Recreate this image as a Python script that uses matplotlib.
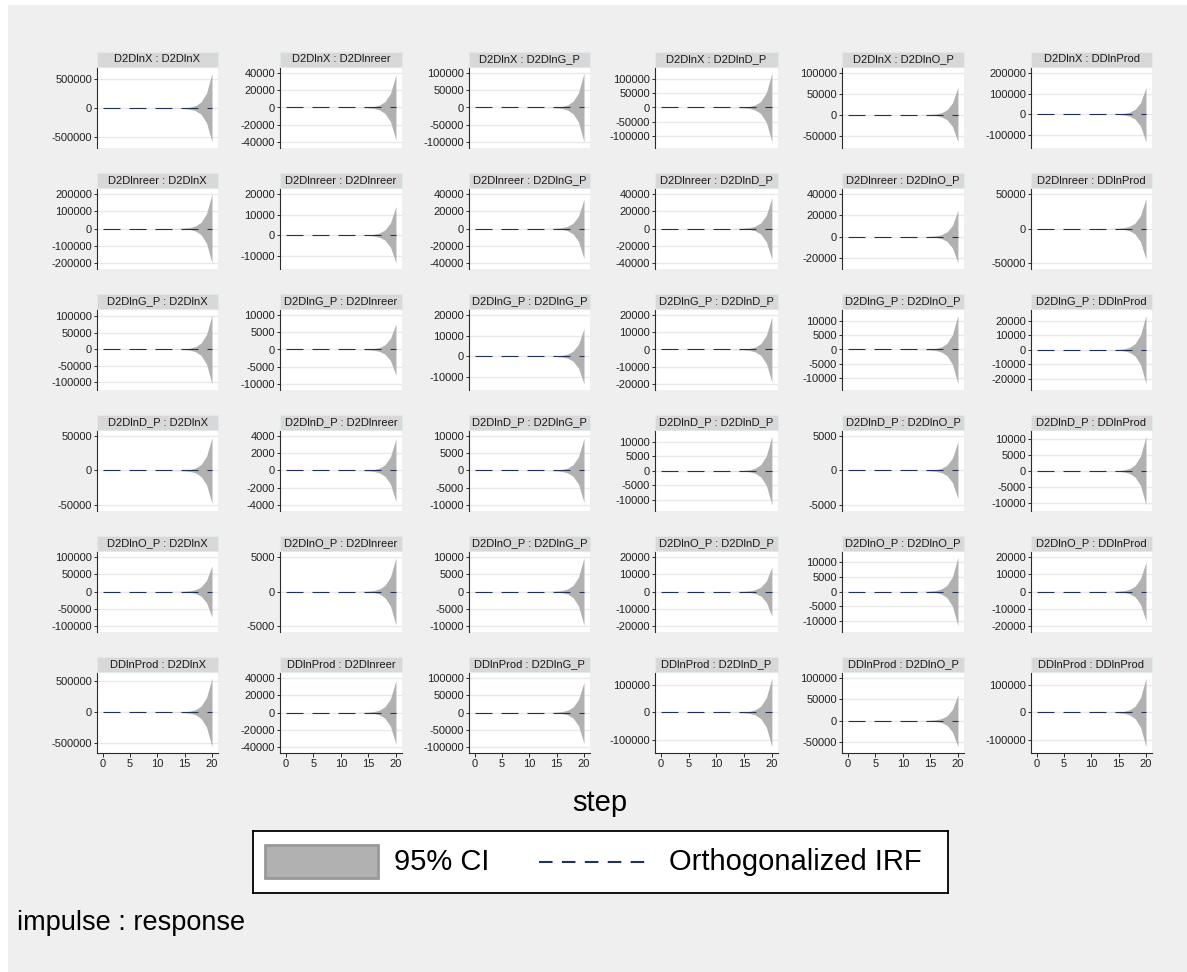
import matplotlib
matplotlib.use("Agg")
import matplotlib.pyplot as plt
from matplotlib.patches import Rectangle
from matplotlib.lines import Line2D

plt.rcParams["font.family"] = ["Liberation Sans", "DejaVu Sans"]

# Stata-like colours
OUTER = "#efefef"
STRIP = "#d8d8d8"
STRIP_EDGE = "#e2e9ec"
BAND = "#b1b1b1"
IRF = "#22325e"
GRID = "#e9e9e9"
AXIS = "#2b2b2b"

variables = ["D2DlnX", "D2Dlnreer", "D2DlnG_P", "D2DlnD_P", "D2DlnO_P", "DDlnProd"]
impulses = variables
responses = variables

steps = list(range(21))
# relative width of the 95% band along the horizon (1 = step 20)
ci_shape = [0, 0, 0, 0, 0, 0, 0, 0, 0, 0, 0.0002, 0.0004, 0.0008, 0.002,
            0.005, 0.012, 0.03, 0.075, 0.18, 0.43, 1.0]
oirf = [0, 0, 0, 0, 0, 0, 0, 0, 0, 0, 0, 0, 0, 0, 0, 0, 0, 0, 0, 0, 0]

# band edges at step 20, rows = impulse, cols = response
ci_upper = [
    [600000, 38000, 100000, 120000, 66000, 130000],
    [200000, 14000, 34000, 36000, 24700, 44000],
    [104000, 7500, 13500, 19000, 12000, 24000],
    [48000, 3700, 9400, 12000, 4200, 10900],
    [75000, 4900, 9800, 14300, 11800, 17200],
    [550000, 37000, 88000, 123000, 61000, 123000],
]
ci_lower = [
    [-575000, -38000, -100000, -120000, -65000, -135000],
    [-200000, -13500, -35000, -36000, -24700, -45000],
    [-106000, -7500, -13500, -19000, -12000, -23500],
    [-48000, -3650, -9300, -11800, -4100, -10600],
    [-75000, -4900, -9800, -14500, -11800, -17200],
    [-560000, -37000, -90000, -124000, -62000, -124000],
]

y_ticks = [
    [[-500000, 0, 500000], [-40000, -20000, 0, 20000, 40000],
     [-100000, -50000, 0, 50000, 100000], [-100000, -50000, 0, 50000, 100000],
     [-50000, 0, 50000, 100000], [-100000, 0, 100000, 200000]],
    [[-200000, -100000, 0, 100000, 200000], [-10000, 0, 10000, 20000],
     [-40000, -20000, 0, 20000, 40000], [-40000, -20000, 0, 20000, 40000],
     [-20000, 0, 20000, 40000], [-50000, 0, 50000]],
    [[-100000, -50000, 0, 50000, 100000], [-10000, -5000, 0, 5000, 10000],
     [-10000, 0, 10000, 20000], [-20000, -10000, 0, 10000, 20000],
     [-10000, -5000, 0, 5000, 10000], [-20000, -10000, 0, 10000, 20000]],
    [[-50000, 0, 50000], [-4000, -2000, 0, 2000, 4000],
     [-10000, -5000, 0, 5000, 10000], [-10000, -5000, 0, 5000, 10000],
     [-5000, 0, 5000], [-10000, -5000, 0, 5000, 10000]],
    [[-100000, -50000, 0, 50000, 100000], [-5000, 0, 5000],
     [-10000, -5000, 0, 5000, 10000], [-20000, -10000, 0, 10000, 20000],
     [-10000, -5000, 0, 5000, 10000], [-20000, -10000, 0, 10000, 20000]],
    [[-500000, 0, 500000], [-40000, -20000, 0, 20000, 40000],
     [-100000, -50000, 0, 50000, 100000], [-100000, 0, 100000],
     [-50000, 0, 50000, 100000], [-100000, 0, 100000]],
]
x_ticks = [0, 5, 10, 15, 20]

# layout in pixels
W, H = 1187, 972
col_left = [97, 280, 469, 655, 842, 1031]
col_right = [218, 402, 590, 778, 964, 1152]
row_top = [52, 173, 294, 415, 536, 657]
STRIP_H = 15
PANEL_H = 81

fig = plt.figure(figsize=(W / 100, H / 100), dpi=100)
fig.patch.set_facecolor("white")
fig.patches.append(Rectangle((8 / W, 0), 1, 1 - 5 / H, transform=fig.transFigure,
                             facecolor=OUTER, edgecolor="none", zorder=-10))

for i in range(6):
    for j in range(6):
        l, r = col_left[j], col_right[j]
        t = row_top[i] + STRIP_H
        b = t + PANEL_H
        ax = fig.add_axes([l / W, 1 - b / H, (r - l) / W, PANEL_H / H])
        ax.set_facecolor("white")

        up = [s * ci_upper[i][j] for s in ci_shape]
        lo = [s * ci_lower[i][j] for s in ci_shape]
        ax.fill_between(steps, lo, up, color=BAND, linewidth=0, zorder=2)
        ax.plot(steps, oirf, color=IRF, lw=0.8, dashes=(15.3, 8.1), zorder=3)

        ticks = y_ticks[i][j]
        dmin = min(ci_lower[i][j], ticks[0])
        dmax = max(ci_upper[i][j], ticks[-1])
        pad = 0.09 * (dmax - dmin)
        ax.set_ylim(dmin - pad, dmax + pad)
        ax.set_xlim(-1.05, 21.1)
        ax.set_yticks(ticks)
        ax.set_yticklabels([str(v) for v in ticks], fontsize=8, color="#222222")
        ax.grid(axis="y", color=GRID, linewidth=1.0, zorder=0)
        ax.set_axisbelow(True)
        ax.tick_params(axis="y", length=2.5, width=0.7, color=AXIS, pad=1)

        for side in ["top", "right"]:
            ax.spines[side].set_visible(False)
        ax.spines["left"].set_color(AXIS)
        ax.spines["left"].set_linewidth(0.8)

        if i == 5:
            ax.set_xticks(x_ticks)
            ax.set_xticklabels([str(v) for v in x_ticks], fontsize=8, color="#222222")
            ax.tick_params(axis="x", length=3, width=0.7, color=AXIS, pad=1.5)
            ax.spines["bottom"].set_color(AXIS)
            ax.spines["bottom"].set_linewidth(0.8)
        else:
            ax.set_xticks([])
            ax.spines["bottom"].set_visible(False)

        # subtitle strip
        sh = STRIP_H / PANEL_H
        ax.add_patch(Rectangle((0, 1), 1, sh, transform=ax.transAxes,
                               facecolor=STRIP, edgecolor=STRIP_EDGE, lw=0.8,
                               clip_on=False, zorder=5))
        ax.text(0.5, 1 + sh / 2, f"{impulses[i]} : {responses[j]}",
                transform=ax.transAxes, ha="center", va="center",
                fontsize=8, color="#1a1a1a", zorder=6)

# x title
fig.text(600 / W, 1 - 803 / H, "step", ha="center", va="center", fontsize=21)

# legend drawn by hand so the box sits where Stata puts it
lg = fig.add_axes([253 / W, 1 - 893 / H, (948 - 253) / W, 62 / H])
lg.set_xlim(0, 695)
lg.set_ylim(0, 62)
lg.set_xticks([])
lg.set_yticks([])
lg.set_facecolor("white")
for s in lg.spines.values():
    s.set_color("black")
    s.set_linewidth(1.3)
lg.add_patch(Rectangle((12, 15), 113, 33, facecolor=BAND, edgecolor="#999999", lw=2))
lg.text(141, 31, "95% CI", ha="left", va="center", fontsize=21)
lg.add_line(Line2D([286, 398], [31, 31], color=IRF, lw=1.5, dashes=(6.5, 4.5)))
lg.text(416, 31, "Orthogonalized IRF", ha="left", va="center", fontsize=21)

fig.text(17 / W, 1 - 923 / H, "impulse : response", ha="left", va="center", fontsize=19.5)

fig.savefig("out.png", dpi=100)
